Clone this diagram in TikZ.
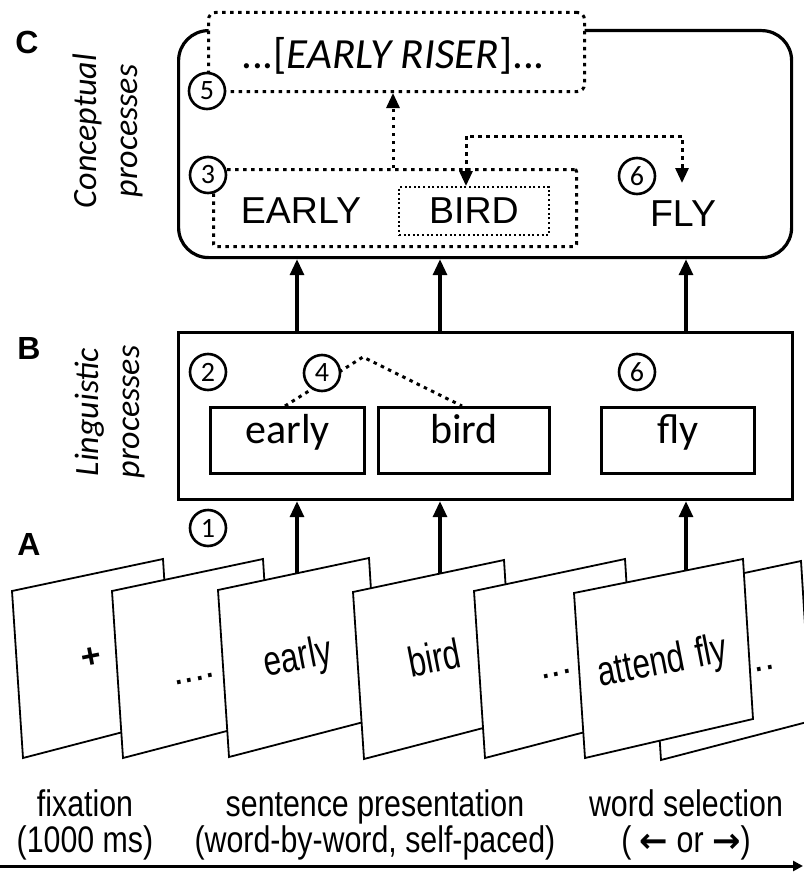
\documentclass[tikz,border=0pt]{standalone}
\usepackage{fontspec}
\setmainfont{Liberation Sans}
\newfontfamily\calfont{Carlito}
\newfontfamily\narrowfont[FakeStretch=0.82]{Liberation Sans}
\newfontfamily\screenfont[FakeStretch=0.75]{Liberation Sans}
\newfontfamily\arrowfont{DejaVu Sans}
\usetikzlibrary{arrows.meta}

\tikzset{
  solidbox/.style={draw, line width=3.2pt, inner sep=0pt, anchor=north west},
  dotbox/.style={draw, line width=3pt, dash pattern=on 3.5pt off 4.5pt, inner sep=0pt, anchor=north west},
  finedot/.style={draw, line width=2pt, dash pattern=on 2pt off 2.6pt, inner sep=0pt, anchor=north west},
  num/.style={circle, draw, line width=2.6pt, fill=white, minimum size=36pt, inner sep=0pt,
    font=\calfont\fontsize{28}{28}\selectfont},
  upar/.style={line width=3.2pt, -{Triangle[width=14pt,length=16pt]}},
  dotline/.style={line width=3pt, dash pattern=on 3.5pt off 4.5pt},
  dotar/.style={dotline, -{Triangle[width=13pt,length=15pt]}},
  slide/.style={draw, line width=1.8pt, fill=white, line join=miter},
  slidetext/.style={font=\screenfont\fontsize{42}{42}\selectfont, rotate=11, anchor=base, inner sep=0pt},
  wordbox/.style={solidbox, minimum height=66pt, font=\calfont\fontsize{42}{42}\selectfont,
    text height=0.82em, text depth=0.2em},
  concept/.style={font=\fontsize{37.5}{37.5}\selectfont, inner sep=0pt},
  panel/.style={font=\bfseries\fontsize{32}{32}\selectfont, inner sep=0pt},
  sidelabel/.style={rotate=90, align=center, font=\calfont\itshape\fontsize{34}{41}\selectfont, inner sep=0pt},
  bottomtext/.style={align=center, font=\narrowfont\fontsize{37}{36}\selectfont, inner sep=0pt},
  arrowglyph/.style={font=\arrowfont\bfseries\fontsize{34}{34}\selectfont},
}

\begin{document}
\begin{tikzpicture}[x=1pt, y=-1pt]
\useasboundingbox (0,0) rectangle (803,875);

% ---------- panel letters and side labels ----------
\node[panel] (labC) at (27,42) {C};
\node[panel] (labB) at (29,348) {B};
\node[panel] (labA) at (29,544) {A};
\node[sidelabel] (lblC) at (108,131) {Conceptual\\processes};
\node[sidelabel] (lblB) at (110,412) {Linguistic\\processes};

% ---------- C: conceptual processes ----------
\node[solidbox, minimum width=613pt, minimum height=227pt, rounded corners=30pt] (cbox) at (177,29) {};
\node[dotbox, fill=white, minimum width=376pt, minimum height=79pt, rounded corners=7pt] (box5) at (207,11) {};
\node[font=\calfont\fontsize{43}{43}\selectfont, anchor=base, inner sep=0pt] (riser) at (393,68)
  {...[\textit{EARLY RISER}]...};
\node[num] (n5) at (207,91) {5};

\node[dotbox, minimum width=363pt, minimum height=77pt, rounded corners=2pt] (box3) at (212,168) {};
\node[concept] (earlyC) at (301,210.5) {EARLY};
\node[finedot, minimum width=150pt, minimum height=48pt, concept] (birdC) at (398,186) {BIRD};
\node[num] (n3) at (208,175) {3};

\node[num] (n6c) at (637,176) {6};
\node[concept] (flyC) at (683,214) {FLY};

% combination feeds the phrase meaning
\coordinate (upx) at (393,0);
\draw[dotar] (box3.north -| upx) -- (box5.south -| upx);

% link between BIRD and FLY
\coordinate (lnkL) at (466,136);
\coordinate (lnkR) at (682,136);
\coordinate (flyin) at (682,183);
\draw[dotline, {Triangle[width=13pt,length=15pt]}-{Triangle[width=13pt,length=15pt]}]
  (birdC.north -| lnkL) -- (lnkL) -- (lnkR) -- (flyin);

% ---------- B: linguistic processes ----------
\node[solidbox, minimum width=614pt, minimum height=167pt] (bbox) at (177,331) {};
\node[wordbox, minimum width=154pt] (wEarly) at (209,406) {early};
\node[wordbox, minimum width=171pt] (wBird) at (377,406) {bird};
\node[wordbox, minimum width=153pt] (wFly) at (600,406) {fly};

\coordinate (lamL) at (285,0);
\coordinate (apex) at (363,357);
\coordinate (lamR) at (462,0);
\draw[dotline] (wEarly.north -| lamL) -- (apex) -- (wBird.north -| lamR);

\node[num] (n2) at (208,372) {2};
\node[num] (n4) at (322,373) {4};
\node[num] (n6b) at (637,372) {6};

% B -> C
\coordinate (colA) at (297,0);
\coordinate (colB) at (440,0);
\coordinate (colC) at (686,0);
\draw[upar] (bbox.north -| colA) -- (cbox.south -| colA);
\draw[upar] (bbox.north -| colB) -- (cbox.south -| colB);
\draw[upar] (bbox.north -| colC) -- (cbox.south -| colC);

% ---------- A: screens of the trial ----------
\node[num] (n1) at (208,528) {1};

\draw[slide] (12,591) -- ++(151,-32) -- ++(10,160) -- ++(-150,39) -- cycle;
\draw[slide] (112,591) -- ++(151,-32) -- ++(10,160) -- ++(-150,39) -- cycle;
\draw[slide] (218,590) -- ++(151,-32) -- ++(10,160) -- ++(-150,39) -- cycle;
\draw[slide] (353,592) -- ++(151,-32) -- ++(10,160) -- ++(-150,39) -- cycle;
\draw[slide] (474,591) -- ++(151,-32) -- ++(10,160) -- ++(-150,39) -- cycle;
\draw[slide] (650,593) -- ++(151,-32) -- ++(10,160) -- ++(-150,39) -- cycle;
\draw[slide] (574,593) -- ++(169,-34) -- ++(10,160) -- ++(-168,39) -- cycle;

\node[slidetext, font=\bfseries\fontsize{34}{34}\selectfont] (sPlus) at (93,668) {+};
\node[slidetext, font=\fontsize{38}{38}\selectfont] (sDots1) at (195,681) {....};
\node[slidetext] (sEarly) at (300,670) {early};
\node[slidetext] (sBird) at (437,672) {bird};
\node[slidetext, font=\fontsize{38}{38}\selectfont] (sDots2) at (557,676) {...};
\node[slidetext] (sAttend) at (665,674) {attend\hspace{12pt}fly};
\node[slidetext, font=\fontsize{38}{38}\selectfont] (sDots3) at (765,670) {..};

% A -> B
\coordinate (topA) at (297,573);
\coordinate (topB) at (440,573);
\coordinate (topC) at (686,571);
\draw[upar] (topA) -- (bbox.south -| topA);
\draw[upar] (topB) -- (bbox.south -| topB);
\draw[upar] (topC) -- (bbox.south -| topC);

% ---------- time line ----------
\node[bottomtext] (tFix) at (85,825) {fixation\\(1000 ms)};
\node[bottomtext] (tSent) at (375,825) {sentence presentation\\(word-by-word, self-paced)};
\node[bottomtext] (tSel) at (686,825) {word selection\\( {\arrowfont\bfseries\fontsize{34}{34}\selectfont ←} or {\arrowfont\bfseries\fontsize{34}{34}\selectfont →})};
\coordinate (tl0) at (0,866);
\coordinate (tl1) at (803,866);
\draw[line width=3pt, -{Triangle[width=10pt,length=10pt]}] (tl0) -- (tl1);
\end{tikzpicture}
\end{document}
